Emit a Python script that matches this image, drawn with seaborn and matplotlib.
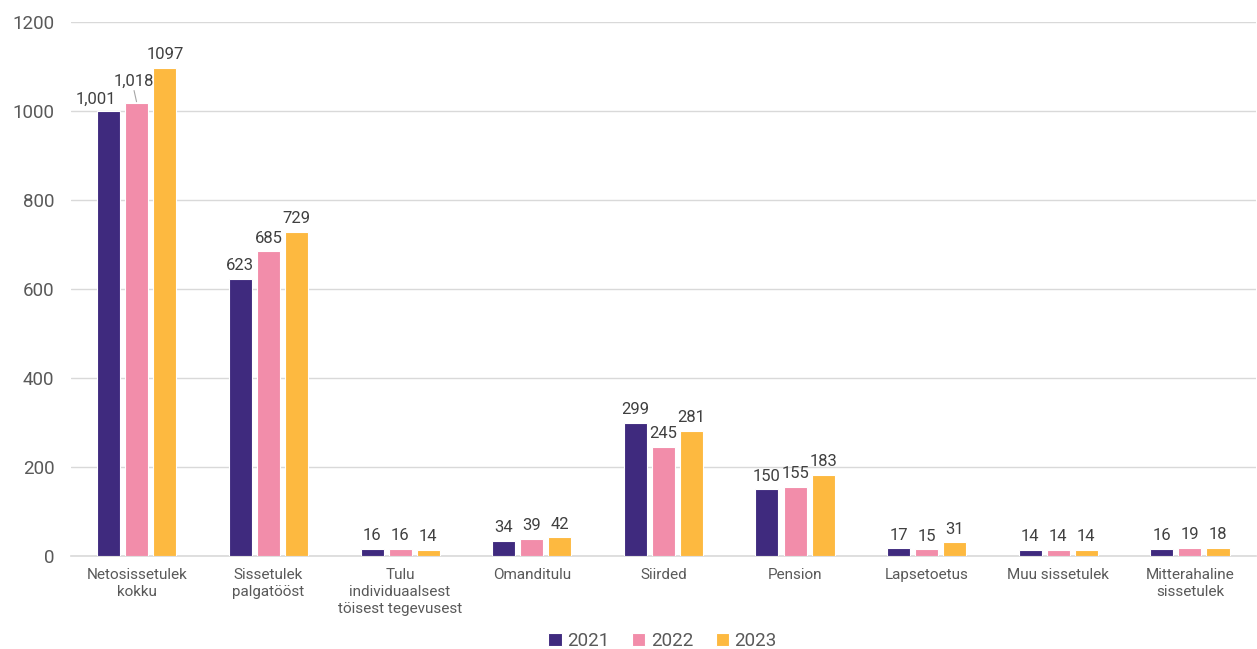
import matplotlib
matplotlib.use("Agg")
import matplotlib.pyplot as plt
import seaborn as sns
import pandas as pd

categories = ["Netosissetulek\nkokku", "Sissetulek\npalgatööst", "Tulu\nindividuaalsest\ntöisest tegevusest",
              "Omanditulu", "Siirded", "Pension", "Lapsetoetus", "Muu sissetulek", "Mitterahaline\nsissetulek"]
years = ["2021", "2022", "2023"]
v2021 = [1001, 623, 16, 34, 299, 150, 17, 14, 16]
v2022 = [1018, 685, 16, 39, 245, 155, 15, 14, 19]
v2023 = [1097, 729, 14, 42, 281, 183, 31, 14, 18]
labels2021 = ["1,001", "623", "16", "34", "299", "150", "17", "14", "16"]
labels2022 = ["1,018", "685", "16", "39", "245", "155", "15", "14", "19"]
labels2023 = ["1097", "729", "14", "42", "281", "183", "31", "14", "18"]
yticks = [0, 200, 400, 600, 800, 1000, 1200]

colors = ["#3F2A7E", "#F28DAA", "#FDB940"]

rows = []
for y, vals in zip(years, [v2021, v2022, v2023]):
    for c, v in zip(categories, vals):
        rows.append({"cat": c, "year": y, "val": v})
df = pd.DataFrame(rows)

sns.set_theme(style="white")
plt.rcParams["font.family"] = ["Roboto", "DejaVu Sans"]

fig = plt.figure(figsize=(12.57, 6.49), dpi=100)
ax = fig.add_axes([0.0565, 0.1433, 0.9425, 0.8227])

sns.barplot(data=df, x="cat", y="val", hue="year", palette=colors, saturation=1, width=0.64, gap=0.18,
            edgecolor="white", linewidth=0.8, ax=ax, legend=True, zorder=3)

ax.set_ylim(0, 1200)
ax.set_yticks(yticks)
ax.set_xlim(-0.5, 8.5)
ax.grid(axis="y", color="#D9D9D9", linewidth=1, zorder=0)
ax.set_axisbelow(True)
for s in ["top", "right", "left"]:
    ax.spines[s].set_visible(False)
ax.spines["bottom"].set_color("#D9D9D9")
ax.spines["bottom"].set_linewidth(1.2)
ax.set_xlabel("")
ax.set_ylabel("")
ax.tick_params(axis="y", length=0, pad=12, labelsize=13.5, labelcolor="#595959")
ax.tick_params(axis="x", length=0, pad=9, labelsize=11, labelcolor="#595959")
for t in ax.get_xticklabels():
    t.set_linespacing(1.25)

all_labels = [labels2021, labels2022, labels2023]
# manual label offsets (points) for the crowded first group: key = (category, year index)
offsets = {(0, 0): (-9, -1), (0, 1): (-2, 6)}
for hi, cont in enumerate(ax.containers):
    for ci, bar in enumerate(cont):
        dx, dy = offsets.get((ci, hi), (0, 0))
        x = bar.get_x() + bar.get_width() / 2
        h = bar.get_height()
        ax.annotate(all_labels[hi][ci], (x, h), xytext=(dx, 4 + dy), textcoords="offset points",
                    ha="center", va="bottom", fontsize=12, color="#404040", zorder=5)
        if (ci, hi) == (0, 1):
            ax.annotate("", xy=(x, h), xycoords="data", xytext=(-2, 9), textcoords="offset points",
                        arrowprops=dict(arrowstyle="-", color="#A6A6A6", lw=0.8,
                                        shrinkA=0, shrinkB=1))

ax.legend_.remove()
handles, lbls = ax.get_legend_handles_labels()
fig.legend(handles, lbls, loc="center", bbox_to_anchor=(0.527, 0.012), ncol=3, frameon=False,
           fontsize=13.5, labelcolor="#595959", handlelength=0.7, handleheight=0.7,
           handletextpad=0.3, columnspacing=1.2, borderaxespad=0, borderpad=0)

fig.savefig("out.png", dpi=100)
